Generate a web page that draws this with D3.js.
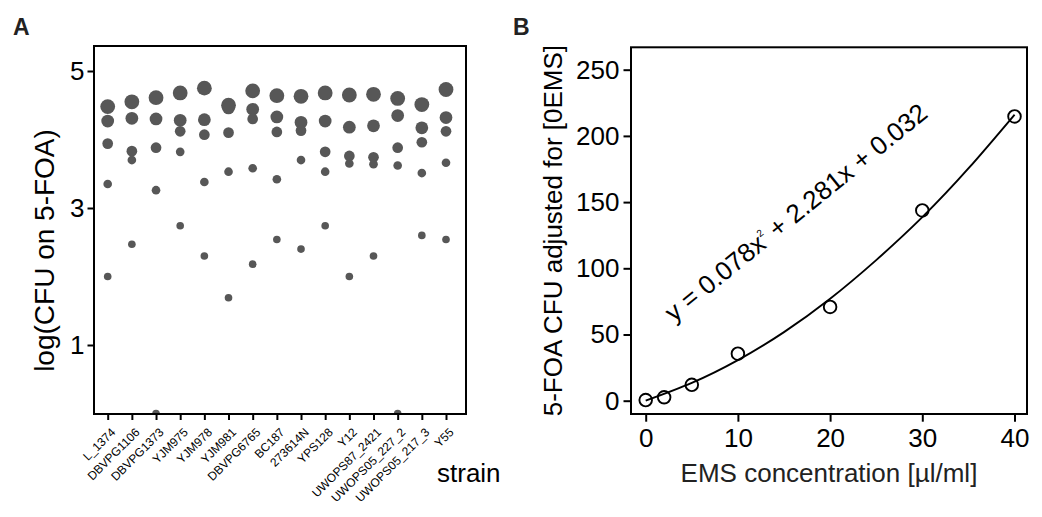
<!DOCTYPE html>
<html>
<head>
<meta charset="utf-8">
<script src="https://cdn.jsdelivr.net/npm/d3@7"></script>
<style>
  html, body { margin: 0; padding: 0; background: #fff; }
  svg { display: block; font-family: "Liberation Sans", Arial, Helvetica, sans-serif; }
</style>
</head>
<body>
<svg id="chart" width="1042" height="517"></svg>
<script>
// ---------- Panel A data ----------
const strains = ["L_1374","DBVPG1106","DBVPG1373","YJM975","YJM978","YJM981","DBVPG6765",
  "BC187","273614N","YPS128","Y12","UWOPS87_2421","UWOPS05_227_2","UWOPS05_217_3","Y55"];
// log(CFU on 5-FOA) per strain, highest EMS dose first
const logCFU = [
  [4.48, 4.27, 3.94, 3.35, 2.00],
  [4.55, 4.31, 3.83, 3.70, 2.47],
  [4.61, 4.30, 3.88, 3.26, 0.00],
  [4.68, 4.28, 4.12, 3.82, 2.74],
  [4.75, 4.29, 4.07, 3.38, 2.30],
  [4.50, 4.46, 4.10, 3.53, 1.69],
  [4.71, 4.44, 4.30, 3.58, 2.18],
  [4.64, 4.33, 4.11, 3.42, 2.54],
  [4.63, 4.25, 4.13, 3.70, 2.40],
  [4.68, 4.27, 3.82, 3.53, 2.74],
  [4.65, 4.18, 3.76, 3.65, 2.00],
  [4.66, 4.20, 3.74, 3.64, 2.30],
  [4.60, 4.35, 3.88, 3.62, 0.00],
  [4.51, 4.17, 3.96, 3.51, 2.60],
  [4.73, 4.32, 4.12, 3.66, 2.54]
];
const doseOrder = [40, 30, 20, 10, 5, 2, 0];
const aYTicks = [1, 3, 5];

// ---------- Panel B data ----------
const emsConc = [0, 2, 5, 10, 20, 30, 40];
const foaAdjusted = [0.5, 2.6, 12.0, 35.5, 70.8, 143.7, 214.7];
// fitted curve
const fitX = [0, 5, 10, 15, 20, 25, 30, 35, 40];
const fitY = [0.0, 13.4, 30.6, 51.8, 77.0, 106.2, 138.6, 175.4, 216.0];
const bXTicks = [0, 10, 20, 30, 40];
const bYTicks = [0, 50, 100, 150, 200, 250];

const svg = d3.select("#chart");
const FONT_TICK = 26, FONT_TITLE = 26;

// ================= Panel A =================
const A = { left: 94, right: 466, top: 46, bottom: 414 };
const xA = d3.scalePoint().domain(strains).range([107.7, 446]);
const yA = d3.scaleLinear().domain([0, 5.365]).range([413.5, 46]);
const rA = d3.scaleLinear().domain([0, 40]).range([3.3, 7.4]);

svg.append("defs").append("clipPath").attr("id", "clipA")
  .append("rect").attr("x", A.left).attr("y", A.top)
  .attr("width", A.right - A.left).attr("height", A.bottom - A.top);

const pointsA = [];
strains.forEach((s, i) => logCFU[i].forEach((v, j) => pointsA.push({ s, v, dose: doseOrder[j] })));

svg.append("g").attr("clip-path", "url(#clipA)")
  .selectAll("circle").data(pointsA).join("circle")
  .attr("cx", d => xA(d.s)).attr("cy", d => yA(d.v)).attr("r", d => rA(d.dose))
  .attr("fill", "#575757");

// frame
svg.append("rect").attr("x", A.left).attr("y", A.top)
  .attr("width", A.right - A.left).attr("height", A.bottom - A.top)
  .attr("fill", "none").attr("stroke", "#000").attr("stroke-width", 2);

// y axis
const gAy = svg.append("g").attr("transform", `translate(${A.left},0)`)
  .call(d3.axisLeft(yA).tickValues(aYTicks).tickSize(6.5).tickPadding(3).tickFormat(d3.format("d")));
gAy.select(".domain").remove();
gAy.selectAll(".tick line").attr("stroke", "#000").attr("stroke-width", 2);
gAy.selectAll(".tick text").attr("font-size", FONT_TICK).attr("fill", "#000")
  .attr("font-family", "'Liberation Sans', Arial, sans-serif");

// x axis
const gAx = svg.append("g").attr("transform", `translate(0,${A.bottom})`)
  .call(d3.axisBottom(xA).tickSize(6));
gAx.select(".domain").remove();
gAx.selectAll(".tick line").attr("stroke", "#000").attr("stroke-width", 2);
gAx.selectAll(".tick text")
  .attr("font-size", 12).attr("fill", "#000")
  .attr("font-family", "'Liberation Sans', Arial, sans-serif")
  .attr("y", null).attr("dy", null)
  .attr("text-anchor", "end")
  .attr("transform", "translate(8,19) rotate(-45)");

svg.append("text").attr("x", 437).attr("y", 481.7)
  .attr("font-size", FONT_TITLE).attr("fill", "#000").text("strain");

svg.append("text").attr("transform", "translate(54,250.5) rotate(-90)")
  .attr("text-anchor", "middle").attr("font-size", 28).attr("fill", "#000")
  .text("log(CFU on 5-FOA)");

svg.append("text").attr("x", 13).attr("y", 35).attr("font-size", 23)
  .attr("font-weight", "bold").attr("fill", "#222").text("A");

// ================= Panel B =================
const B = { left: 631, right: 1027, top: 47.3, bottom: 414 };
const xB = d3.scaleLinear().domain([0, 40]).range([645.7, 1014.5]);
const yB = d3.scaleLinear().domain([0, 250]).range([400.7, 69.7]);

// fitted curve
const line = d3.line().x(d => xB(d[0])).y(d => yB(d[1])).curve(d3.curveNatural);
svg.append("path").datum(fitX.map((x, i) => [x, fitY[i]]))
  .attr("d", line).attr("fill", "none").attr("stroke", "#000").attr("stroke-width", 1.9);

// points
svg.append("g").selectAll("circle").data(emsConc.map((x, i) => ({ x, y: foaAdjusted[i] })))
  .join("circle")
  .attr("cx", d => xB(d.x)).attr("cy", d => yB(d.y)).attr("r", 6.3)
  .attr("fill", "none").attr("stroke", "#000").attr("stroke-width", 1.9);

// frame
svg.append("rect").attr("x", B.left).attr("y", B.top)
  .attr("width", B.right - B.left).attr("height", B.bottom - B.top)
  .attr("fill", "none").attr("stroke", "#000").attr("stroke-width", 2);

const gBy = svg.append("g").attr("transform", `translate(${B.left},0)`)
  .call(d3.axisLeft(yB).tickValues(bYTicks).tickSize(7.5).tickPadding(4));
gBy.select(".domain").remove();
gBy.selectAll(".tick line").attr("stroke", "#000").attr("stroke-width", 2);
gBy.selectAll(".tick text").attr("font-size", FONT_TICK).attr("fill", "#000")
  .attr("font-family", "'Liberation Sans', Arial, sans-serif");

const gBx = svg.append("g").attr("transform", `translate(0,${B.bottom})`)
  .call(d3.axisBottom(xB).tickValues(bXTicks).tickSize(7.7));
gBx.select(".domain").remove();
gBx.selectAll(".tick line").attr("stroke", "#000").attr("stroke-width", 2);
gBx.selectAll(".tick text").attr("font-size", FONT_TICK).attr("fill", "#000")
  .attr("font-family", "'Liberation Sans', Arial, sans-serif")
  .attr("dy", null).attr("y", 33);

svg.append("text").attr("x", (B.left + B.right) / 2).attr("y", 481.7)
  .attr("text-anchor", "middle").attr("font-size", FONT_TITLE).attr("fill", "#222")
  .text("EMS concentration [µl/ml]");

svg.append("text").attr("transform", `translate(562,${(B.top + B.bottom) / 2}) rotate(-90)`)
  .attr("text-anchor", "middle").attr("font-size", FONT_TITLE).attr("fill", "#000")
  .text("5-FOA CFU adjusted for [0EMS]");

// equation annotation
const eq = svg.append("text")
  .attr("transform", `translate(${xB(16.9)},${yB(137)}) rotate(-39)`)
  .attr("text-anchor", "middle").attr("font-size", 26).attr("fill", "#000");
eq.append("tspan").text("y = 0.078x");
eq.append("tspan").attr("font-size", 10).attr("dy", -12).text("2");
eq.append("tspan").attr("dy", 12).text(" + 2.281x + 0.032");

svg.append("text").attr("x", 513).attr("y", 35).attr("font-size", 23)
  .attr("font-weight", "bold").attr("fill", "#222").text("B");
</script>
</body>
</html>
